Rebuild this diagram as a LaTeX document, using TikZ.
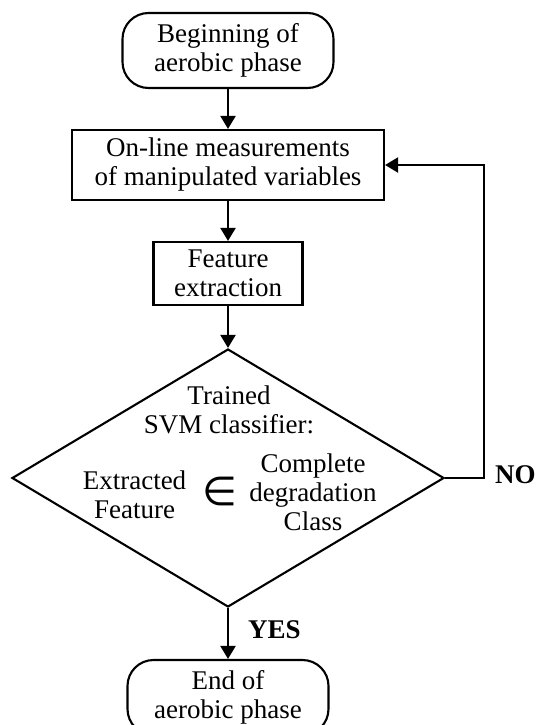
\documentclass[tikz,border=0pt]{standalone}
\usepackage{fontspec}
\setmainfont{Liberation Serif}
\newfontfamily\djv{DejaVu Sans}
\usetikzlibrary{shapes.geometric,arrows.meta}
\begin{document}
\begin{tikzpicture}[x=1pt,y=-1pt,
  line width=2.1pt,
  every node/.style={font=\fontsize{27}{29}\selectfont, align=center, inner sep=0pt},
  term/.style={draw, rounded corners=26pt, minimum height=75pt},
  proc/.style={draw},
  lbl/.style={font=\fontsize{27}{29}\selectfont\bfseries},
  arr/.style={-{Triangle[length=13pt,width=15pt]}}
]
\useasboundingbox (0,0) rectangle (538,725);
\clip (0,0) rectangle (538,725);
\node[term, minimum width=211pt] (start) at (228,50.5) {Beginning of\\aerobic phase};
\node[proc, minimum width=312pt, minimum height=70pt] (meas) at (228,165) {On-line measurements\\of manipulated variables};
\node[proc, minimum width=149pt, minimum height=63pt] (feat) at (228,273.5) {Feature\\extraction};
\node[draw, diamond, minimum width=432pt, minimum height=258pt, aspect=1.674] (dec) at (228,478) {};
\node[term, minimum width=201pt] (end) at (228,697.5) {End of\\aerobic phase};
\node (q1) at (229,410) {Trained\\SVM classifier:};
\node (q2) at (134.5,495) {Extracted\\Feature};
\node (q3) at (313,492) {Complete\\degradation\\Class};
\node[font=\djv\fontsize{40}{40}\selectfont] (in) at (220,491) {∈};
\coordinate (loopc) at (484,478);
\draw[arr] (start) -- (meas);
\draw[arr] (meas) -- (feat);
\draw[arr] (feat) -- (dec);
\draw[arr] (dec) -- (end) node[lbl, pos=0.42, anchor=west, xshift=19pt] (yes) {YES};
\draw[arr] (dec.east) -- (loopc) |- (meas.east);
\node[lbl, anchor=west, yshift=3pt] (no) at ([xshift=10pt]loopc) {NO};
\end{tikzpicture}
\end{document}
